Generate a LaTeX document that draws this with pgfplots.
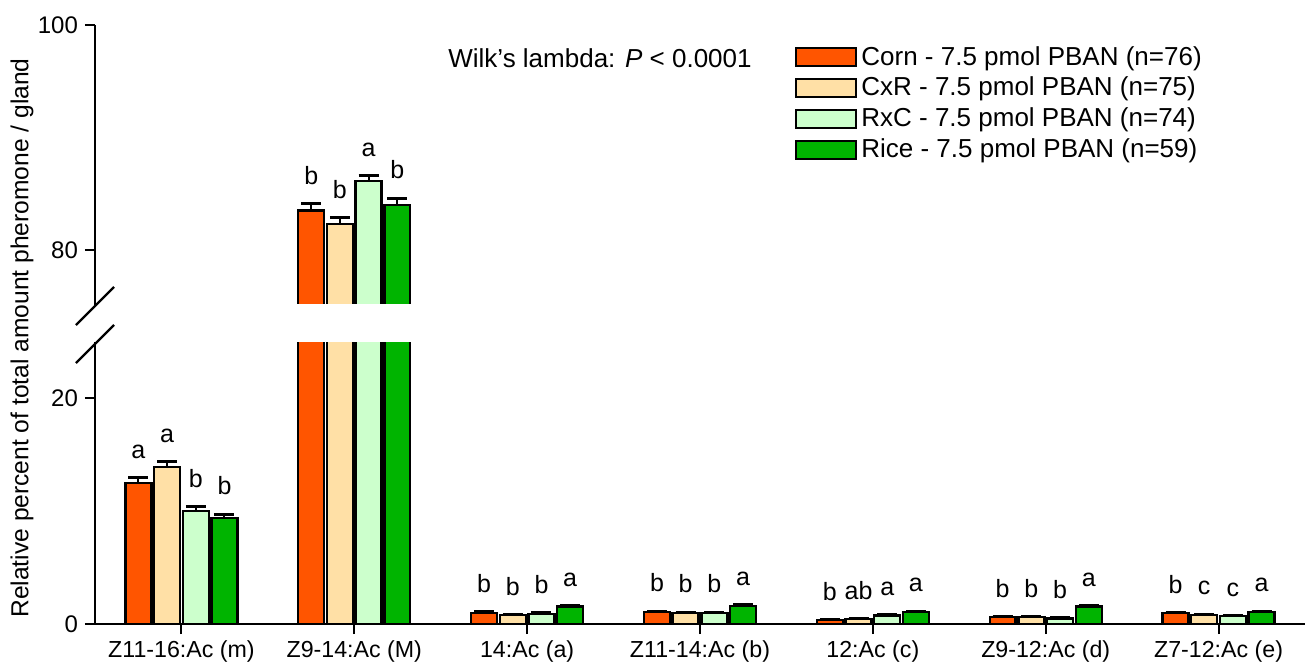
\documentclass[border=0pt]{standalone}
\usepackage{pgfplots}
\pgfplotsset{compat=1.18}
\usepackage{pgfplotstable}
\usepackage{fontspec}
\setmainfont{Liberation Sans}

\definecolor{corn}{RGB}{255,85,0}
\definecolor{cxr}{RGB}{255,224,166}
\definecolor{rxc}{RGB}{204,255,204}
\definecolor{rice}{RGB}{0,180,0}

% x = compound index, y = mean %, err = SE, labL/labU = letters in lower/upper part
\pgfplotstableread{
x y err labL labU
0 12.5 0.5 a {}
1 83.5 0.6 {} b
2 1.0 0.1 b {}
3 1.05 0.1 b {}
4 0.38 0.05 b {}
5 0.6 0.08 b {}
6 0.95 0.08 b {}
}\corn
\pgfplotstableread{
x y err labL labU
0 13.9 0.5 a {}
1 82.3 0.6 {} b
2 0.78 0.08 b {}
3 0.98 0.08 b {}
4 0.42 0.06 ab {}
5 0.62 0.08 b {}
6 0.8 0.08 c {}
}\cxr
\pgfplotstableread{
x y err labL labU
0 10.0 0.4 b {}
1 86.1 0.5 {} a
2 0.9 0.08 b {}
3 0.98 0.08 b {}
4 0.75 0.08 a {}
5 0.48 0.06 b {}
6 0.7 0.08 c {}
}\rxc
\pgfplotstableread{
x y err labL labU
0 9.4 0.35 b {}
1 84.0 0.6 {} b
2 1.55 0.1 a {}
3 1.6 0.1 a {}
4 1.05 0.1 a {}
5 1.55 0.1 a {}
6 1.05 0.1 a {}
}\rice

\pgfplotsset{
  brk/.style={
    scale only axis, width=605pt,
    xmin=-0.5, xmax=6.5,
    axis y line*=left, axis line style={-, line width=1.2pt},
    tick align=outside, major tick length=5pt,
    tick style={line width=1pt, black},
    /pgf/number format/assume math mode=true,
    tick label style={font=\fontsize{12}{14}\selectfont},
    clip=true,
    nodes near coords, point meta=explicit symbolic,
    visualization depends on={\thisrow{err}\as\myerr},
    every node near coord/.append style={font=\fontsize{12.5}{14}\selectfont,
      black, shift={(axis direction cs:0,\myerr)}, yshift=5.5pt},
    legend image code/.code={\draw[#1, line width=1pt] (0pt,-4.5pt) rectangle (30pt,4.5pt);},
  },
  bars/.style={ybar, bar width=0.15, bar shift=0pt, draw=black, line width=1.2pt,
    error bars/y dir=plus, error bars/y explicit, error bars/error mark=|,
    error bars/error bar style={line width=1pt, black},
    error bars/error mark options={line width=1.5pt, mark size=5pt, black}},
}

\begin{document}
\begin{tikzpicture}
% lower part 0-25
\begin{axis}[brk, height=141pt, at={(0,0)}, anchor=south west,
    ymin=0, ymax=25, ytick={0,20},
    axis x line*=bottom,
    xtick={0,...,6},
    xticklabels={Z11-16:Ac (m), Z9-14:Ac (M), 14:Ac (a), Z11-14:Ac (b), 12:Ac (c), Z9-12:Ac (d), Z7-12:Ac (e)},
    x tick label style={font=\fontsize{11.6}{14}\selectfont},
  ]
  \addplot[bars, fill=corn] table[x expr=\thisrow{x}-0.249, y=y, y error=err, meta=labL] {\corn};
  \addplot[bars, fill=cxr] table[x expr=\thisrow{x}-0.083, y=y, y error=err, meta=labL] {\cxr};
  \addplot[bars, fill=rxc] table[x expr=\thisrow{x}+0.083, y=y, y error=err, meta=labL] {\rxc};
  \addplot[bars, fill=rice] table[x expr=\thisrow{x}+0.249, y=y, y error=err, meta=labL] {\rice};
\end{axis}
% upper part 75-100
\begin{axis}[brk, height=140.5pt, at={(0,159pt)}, anchor=south west,
    ymin=75, ymax=100, ytick={80,100},
    axis x line=none, xtick=\empty,
    legend style={at={(axis description cs:0.5785,0.94)}, anchor=north west,
      draw=none, fill=none, font=\fontsize{13}{15}\selectfont,
      row sep=0.5pt, inner sep=0pt, cells={anchor=west}},
  ]
  \addplot[bars, fill=corn, restrict y to domain=75:100] table[x expr=\thisrow{x}-0.249, y=y, y error=err, meta=labU] {\corn};
  \addlegendentry{Corn - 7.5 pmol PBAN (n=76)}
  \addplot[bars, fill=cxr, restrict y to domain=75:100] table[x expr=\thisrow{x}-0.083, y=y, y error=err, meta=labU] {\cxr};
  \addlegendentry{CxR - 7.5 pmol PBAN (n=75)}
  \addplot[bars, fill=rxc, restrict y to domain=75:100] table[x expr=\thisrow{x}+0.083, y=y, y error=err, meta=labU] {\rxc};
  \addlegendentry{RxC - 7.5 pmol PBAN (n=74)}
  \addplot[bars, fill=rice, restrict y to domain=75:100] table[x expr=\thisrow{x}+0.249, y=y, y error=err, meta=labU] {\rice};
  \addlegendentry{Rice - 7.5 pmol PBAN (n=59)}
  % open the cut bars at the break
  \draw[white, line width=1.6pt] (axis cs:0.6,75) -- (axis cs:1.4,75);
  \node[anchor=west, font=\fontsize{13}{15}\selectfont, inner sep=0pt]
    at (axis description cs:0.2917,0.8826) {Wilk's lambda: \textit{P} < 0.0001};
\end{axis}
% axis break marks
\draw[line width=1.2pt] (-9.5pt,149.5pt) -- (9.5pt,168.5pt);
\draw[line width=1.2pt] (-9.5pt,130.5pt) -- (9.5pt,149.5pt);
\node[rotate=90, font=\fontsize{12.3}{14}\selectfont] at (-36.5pt,143pt)
  {Relative percent of total amount pheromone / gland};
\pgfresetboundingbox
\path[use as bounding box] (-47.5pt,-23pt) rectangle (607pt,312pt);
\end{tikzpicture}
\end{document}
